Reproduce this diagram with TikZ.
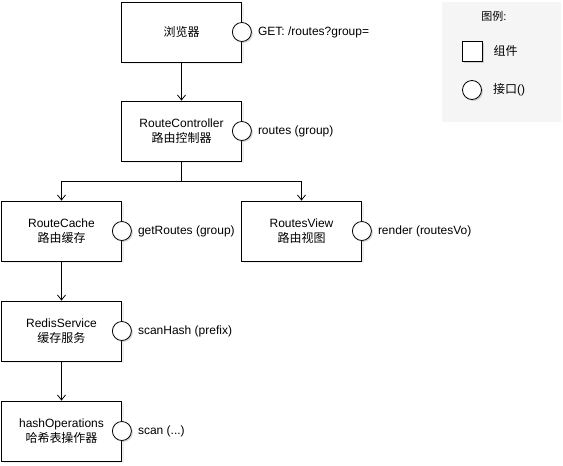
\documentclass[tikz,border=0pt]{standalone}
\usepackage{fontspec}
\setmainfont{Liberation Sans}
\newfontfamily\cjk{Noto Sans CJK SC}
\usetikzlibrary{positioning,shadows,arrows.meta}
\definecolor{legendgray}{RGB}{245,245,245}
\tikzstyle{comp} = [draw, line width=0.8pt, fill=white, minimum width=120pt, minimum height=60pt, align=center, font=\fontsize{12}{15}\selectfont, drop shadow={opacity=0.12, shadow xshift=2pt, shadow yshift=-2pt}]

\begin{document}
\begin{tikzpicture}[x=1pt, y=-1pt,
		iface/.style = {draw, circle, line width=0.8pt, fill=white, minimum size=19pt, inner sep=0pt, drop shadow={opacity=0.3, shadow xshift=1.5pt, shadow yshift=-1.5pt}},
		txt/.style = {anchor=west, inner sep=1pt, font=\fontsize{12}{15}\selectfont},
		arr/.style = {line width=0.8pt, -{Straight Barb[length=5pt, width=8pt]}}]
		\useasboundingbox (0,0) rectangle (563,466);
		% legend
		\fill[legendgray] (442,2) rectangle (561,122);
		\node (lt) at (494,16) [font=\fontsize{11}{13}\selectfont] {{\cjk 图例}:};
		\node (ls) at (472,51) [draw, line width=0.8pt, fill=white, minimum size=20pt, inner sep=0pt, drop shadow={opacity=0.3, shadow xshift=1.5pt, shadow yshift=-1.5pt}] {};
		\node (lc) at (472,90) [iface] {};
		\node (lst) [txt, right=10pt of ls] {{\cjk 组件}};
		\node (lct) [txt, right=10pt of lc] {{\cjk 接口}()};
		% components
		\node (a) at (181.5,32) [comp] {{\cjk 浏览器}};
		\node (b) at (181.5,131) [comp] {RouteController\\{\cjk 路由控制器}};
		\node (c) at (61.5,231) [comp] {RouteCache\\{\cjk 路由缓存}};
		\node (d) at (301.5,231) [comp] {RoutesView\\{\cjk 路由视图}};
		\node (e) at (61.5,331) [comp] {RedisService\\{\cjk 缓存服务}};
		\node (f) at (61.5,431) [comp] {hashOperations\\{\cjk 哈希表操作器}};
		% interfaces
		\node (ia) at (a.east) [iface] {};
		\node (ib) at (b.east) [iface] {};
		\node (ic) at (c.east) [iface] {};
		\node (id) at (d.east) [iface] {};
		\node (ie) at (e.east) [iface] {};
		\node (if) at (f.east) [iface] {};
		\node (ta) [txt, right=5pt of ia] {GET: /routes?group=};
		\node (tb) [txt, right=5pt of ib] {routes (group)};
		\node (tc) [txt, right=5pt of ic] {getRoutes (group)};
		\node (td) [txt, right=5pt of id] {render (routesVo)};
		\node (te) [txt, right=5pt of ie] {scanHash (prefix)};
		\node (tf) [txt, right=5pt of if] {scan (...)};
		% calls
		\draw[arr] (a) -- (b);
		\draw[arr] (b.south) -- ++(0,20) -| (c);
		\draw[arr] (b.south) -- ++(0,20) -| (d);
		\draw[arr] (c) -- (e);
		\draw[arr] (e) -- (f);
	\end{tikzpicture}
\end{document}
